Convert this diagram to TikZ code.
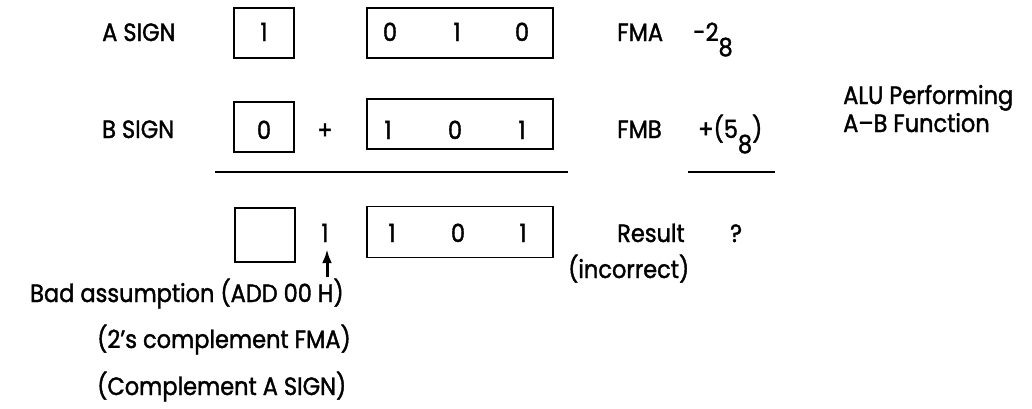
\documentclass[tikz,border=0pt]{standalone}
\usepackage{fontspec}
\setmainfont{Poppins}[FakeStretch=0.9, FakeBold=1.5]
\usetikzlibrary{arrows.meta,positioning,calc}

% lowered digit used as octal subscript
\newcommand{\lowsub}[1]{\lower15pt\hbox{#1}}

\tikzset{
  txt/.style = {font=\fontsize{25}{27}\selectfont, inner sep=0pt},
  signbox/.style = {draw, line width=1.7pt, minimum width=60pt, minimum height=50pt, inner sep=0pt},
  regbox/.style = {draw, line width=1.7pt, minimum width=186pt, minimum height=50pt, inner sep=0pt},
  sumline/.style = {line width=1.8pt}
}

\begin{document}
\begin{tikzpicture}[x=1pt, y=-1pt]
    \useasboundingbox (0,0) rectangle (1032,408);
    % row A
    \node[txt, anchor=base west](asign)at(102,41){A SIGN};
    \node[signbox](abit)at(264,33){};
    \node[txt, anchor=base](abitval)at(abit |- 0,41){1};
    \node[regbox](areg)at(460,33){};
    \foreach \d/\x [count=\i] in {0/390, 1/457, 0/522}
        \node[txt, anchor=base](adig\i)at(\x,41){\d};
    \node[txt, anchor=base west](fma)at(617,41){FMA};
    \node[txt, anchor=base west](aval)at(693,41){-2\lowsub{8}};
    % row B
    \node[txt, anchor=base west](bsign)at(102,138){B SIGN};
    \node[signbox](bbit)at(264,127){};
    \node[txt, anchor=base](bbitval)at(bbit |- 0,139){0};
    \node[txt, anchor=base](plus)at(325,139){+};
    \node[regbox](breg)at(460,124){};
    \foreach \d/\x [count=\i] in {1/388, 0/455, 1/522}
        \node[txt, anchor=base](bdig\i)at(\x,139){\d};
    \node[txt, anchor=base west](fmb)at(617,138){FMB};
    \node[txt, anchor=base west](bval)at(698,138){+(5\lowsub{8})};
    % ALU note
    \node[txt, anchor=base west](alu1)at(843,104){ALU Performing};
    \node[txt, anchor=base west](alu2)at(843,132){A--B Function};
    % sum lines
    \coordinate(s1l)at(215,172);
    \coordinate(s1r)at(568,172);
    \coordinate(s2l)at(688,172);
    \coordinate(s2r)at(775,172);
    \path[draw, sumline](s1l)to(s1r);
    \path[draw, sumline](s2l)to(s2r);
    % result row
    \node[signbox, minimum height=54pt](rbit)at(265,235){};
    \node[txt, anchor=base](carry)at(325,242){1};
    \node[regbox, minimum height=51pt](rreg)at(460,232){};
    \foreach \d/\x [count=\i] in {1/392, 0/458, 1/523}
        \node[txt, anchor=base](rdig\i)at(\x,242){\d};
    \node[txt, anchor=base west](result)at(617,242){Result};
    \node[txt, anchor=base west](quest)at(730,242){?};
    \node[txt, anchor=base west](incorrect)at(568,278){(incorrect)};
    % notes
    \node[txt, anchor=base west](bad)at(30,302){Bad assumption (ADD 00 H)};
    \node[txt, anchor=base west](twos)at(97,348){(2's complement FMA)};
    \node[txt, anchor=base west](compl)at(97,395){(Complement A SIGN)};
    % carry arrow
    \path[draw, line width=3pt, -{Latex[length=14pt, width=10pt]}]($(bad.north -| carry)+(2,-1)$)to($(carry.south)+(2,7)$);
\end{tikzpicture}
\end{document}
